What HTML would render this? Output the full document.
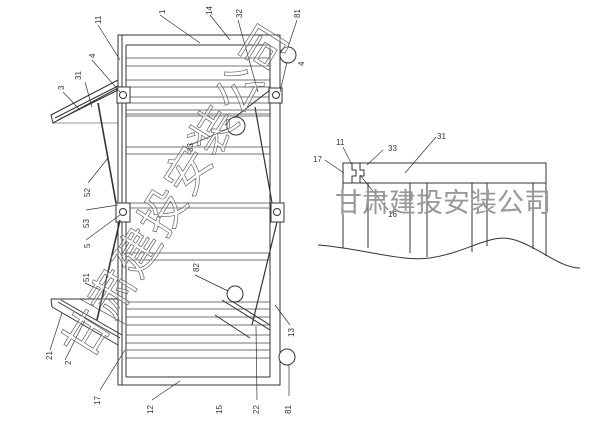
<!DOCTYPE html>
<html><head><meta charset="utf-8"><style>
html,body{margin:0;padding:0;background:#fff;width:612px;height:428px;overflow:hidden}
svg{display:block}
text{font-family:"Liberation Sans",sans-serif;font-size:8px;fill:#333}
.wm{font-family:"Liberation Sans","Noto Sans CJK SC",sans-serif;}
</style></head><body>
<svg width="612" height="428" viewBox="0 0 612 428" xmlns="http://www.w3.org/2000/svg">
<g stroke="#333" stroke-width="1" fill="none">
<rect x="118" y="35" width="162" height="350"/>
<line x1="122" y1="35" x2="122" y2="385"/>
<line x1="126" y1="45" x2="126" y2="377"/>
<line x1="270" y1="45" x2="270" y2="377"/>
<line x1="126" y1="45" x2="270" y2="45"/>
<line x1="126" y1="377" x2="270" y2="377"/>
<g stroke="#444" stroke-width="0.8">
<line x1="126" y1="58" x2="270" y2="58"/><line x1="126" y1="66" x2="270" y2="66"/>
<line x1="126" y1="80" x2="270" y2="80"/><line x1="126" y1="87" x2="270" y2="87"/>
<line x1="126" y1="97" x2="270" y2="97"/><line x1="126" y1="103" x2="270" y2="103"/>
<line x1="126" y1="110" x2="270" y2="110"/><line x1="126" y1="114" x2="270" y2="114"/>
<line x1="126" y1="116" x2="270" y2="116"/>
<line x1="126" y1="147" x2="270" y2="147"/><line x1="126" y1="154" x2="270" y2="154"/>
<line x1="126" y1="203" x2="270" y2="203"/><line x1="126" y1="208" x2="270" y2="208"/>
<line x1="126" y1="253" x2="270" y2="253"/><line x1="126" y1="260" x2="270" y2="260"/>
<line x1="126" y1="302" x2="270" y2="302"/><line x1="126" y1="309" x2="270" y2="309"/>
<line x1="126" y1="317" x2="270" y2="317"/><line x1="126" y1="325" x2="270" y2="325"/>
<line x1="126" y1="335" x2="270" y2="335"/><line x1="126" y1="343" x2="270" y2="343"/>
<line x1="126" y1="350" x2="270" y2="350"/><line x1="126" y1="358" x2="270" y2="358"/>
</g>
<rect x="117" y="87" width="13" height="16" fill="#fff"/><circle cx="123" cy="95" r="3.5"/>
<rect x="269" y="88" width="13" height="15" fill="#fff"/><circle cx="276" cy="95" r="3.5"/>
<rect x="116" y="203" width="14" height="19" fill="#fff"/><circle cx="123" cy="212" r="3.5"/>
<rect x="271" y="203" width="13" height="19" fill="#fff"/><circle cx="277" cy="212" r="3.5"/>
<polygon points="51,115 118,80 118,88 53,123" fill="#fff"/>
<line x1="55" y1="118" x2="118" y2="86"/>
<line x1="58" y1="120" x2="118" y2="90"/>
<line x1="53" y1="123" x2="118" y2="123" stroke-width="0.6"/>
<line x1="51" y1="299" x2="118" y2="299"/>
<line x1="51" y1="299" x2="52" y2="307"/>
<line x1="52" y1="307" x2="118" y2="345"/>
<line x1="58" y1="302" x2="120" y2="338"/>
<line x1="61" y1="300" x2="122" y2="335"/>
<line x1="80" y1="299" x2="125" y2="324" stroke-width="0.6"/>
<line x1="222" y1="300" x2="270" y2="330"/>
<line x1="230" y1="300" x2="270" y2="325"/>
<line x1="215" y1="315" x2="250" y2="338"/>
<line x1="98" y1="103" x2="116" y2="203" stroke-width="1.6"/>
<line x1="255" y1="107" x2="272" y2="203" stroke-width="1.2"/>
<line x1="270" y1="90" x2="225" y2="125"/>
<line x1="120" y1="220" x2="97" y2="320" stroke-width="1.6"/>
<line x1="277" y1="222" x2="252" y2="325" stroke-width="1.2"/>
<circle cx="288" cy="55" r="8" fill="#fff"/>
<circle cx="236" cy="126" r="9" fill="#fff"/>
<circle cx="235" cy="294" r="8" fill="#fff"/>
<circle cx="287" cy="357" r="8" fill="#fff"/>
<g stroke-width="0.7">
<line x1="160" y1="15" x2="200" y2="43"/><line x1="210" y1="15" x2="230" y2="40"/>
<line x1="238" y1="20" x2="258" y2="92"/><line x1="297" y1="20" x2="288" y2="47"/>
<line x1="98" y1="25" x2="120" y2="60"/><line x1="92" y1="60" x2="120" y2="92"/>
<line x1="85" y1="82" x2="92" y2="107"/><line x1="63" y1="92" x2="80" y2="110"/>
<line x1="287" y1="62" x2="280" y2="92"/>
<line x1="190" y1="145" x2="230" y2="128"/>
<line x1="88" y1="183" x2="108" y2="158"/>
<line x1="86" y1="210" x2="118" y2="205"/><line x1="86" y1="240" x2="120" y2="215"/>
<line x1="85" y1="283" x2="100" y2="290"/><line x1="195" y1="275" x2="228" y2="291"/>
<line x1="275" y1="305" x2="290" y2="325"/>
<line x1="50" y1="350" x2="62" y2="313"/><line x1="65" y1="360" x2="85" y2="320"/>
<line x1="100" y1="390" x2="125" y2="350"/><line x1="152" y1="400" x2="180" y2="381"/>
<line x1="257" y1="400" x2="256" y2="326"/><line x1="289" y1="396" x2="289" y2="365"/>
</g>
<rect x="343" y="163" width="203" height="20"/>
<line x1="343" y1="183" x2="343" y2="248"/><line x1="368" y1="183" x2="368" y2="248"/>
<line x1="410" y1="183" x2="410" y2="253"/><line x1="427" y1="183" x2="427" y2="257"/>
<line x1="472" y1="183" x2="472" y2="252"/><line x1="487" y1="183" x2="487" y2="246"/>
<line x1="533" y1="183" x2="533" y2="249"/><line x1="546" y1="183" x2="546" y2="256"/>
<path d="M318,245 C360,248 400,262 430,258 C470,252 490,232 515,240 C540,248 560,268 580,268"/>
<rect x="352" y="166" width="8" height="14" fill="#fff" stroke="#fff"/>
<path d="M343,163 L352,163 L352,170 L356,170 L356,176 L352,176 L352,183" />
<path d="M368,163 L360,163 L360,170 L364,170 L364,176 L360,176 L360,183"/>
<g stroke-width="0.7">
<line x1="343" y1="147" x2="352" y2="165"/><line x1="325" y1="160" x2="344" y2="173"/>
<line x1="383" y1="150" x2="367" y2="165"/><line x1="436" y1="137" x2="405" y2="173"/>
<line x1="360" y1="175" x2="388" y2="210"/>
</g>
</g>
<g>
<text transform="translate(165,14) rotate(-90)">1</text>
<text transform="translate(212,15) rotate(-90)">14</text>
<text transform="translate(242,18) rotate(-90)">32</text>
<text transform="translate(300,18) rotate(-90)">81</text>
<text transform="translate(101,24) rotate(-90)">11</text>
<text transform="translate(95,58) rotate(-90)">4</text>
<text transform="translate(81,80) rotate(-90)">31</text>
<text transform="translate(64,90) rotate(-90)">3</text>
<text transform="translate(304,66) rotate(-90)">4</text>
<text transform="translate(193,152) rotate(-90)">83</text>
<text transform="translate(90,197) rotate(-90)">52</text>
<text transform="translate(89,228) rotate(-90)">53</text>
<text transform="translate(90,248) rotate(-90)">5</text>
<text transform="translate(89,282) rotate(-90)">51</text>
<text transform="translate(199,272) rotate(-90)">82</text>
<text transform="translate(294,337) rotate(-90)">13</text>
<text transform="translate(52,360) rotate(-90)">21</text>
<text transform="translate(71,365) rotate(-90)">2</text>
<text transform="translate(100,405) rotate(-90)">17</text>
<text transform="translate(153,414) rotate(-90)">12</text>
<text transform="translate(222,414) rotate(-90)">15</text>
<text transform="translate(259,414) rotate(-90)">22</text>
<text transform="translate(291,414) rotate(-90)">81</text>
<text x="336" y="145">11</text><text x="313" y="162">17</text>
<text x="388" y="151">33</text><text x="437" y="139">31</text>
<text x="388" y="217">16</text>
</g>
<text class="wm" x="335" y="212" style="font-size:27px;fill:#999">甘肃建投安装公司</text>
<text class="wm" transform="translate(88,362) rotate(-58)" style="font-size:46px;fill:#fff;fill-opacity:0.3;stroke:#666;stroke-width:0.7;letter-spacing:2px">甘肃建投安装公司</text>
</svg>
</body></html>
